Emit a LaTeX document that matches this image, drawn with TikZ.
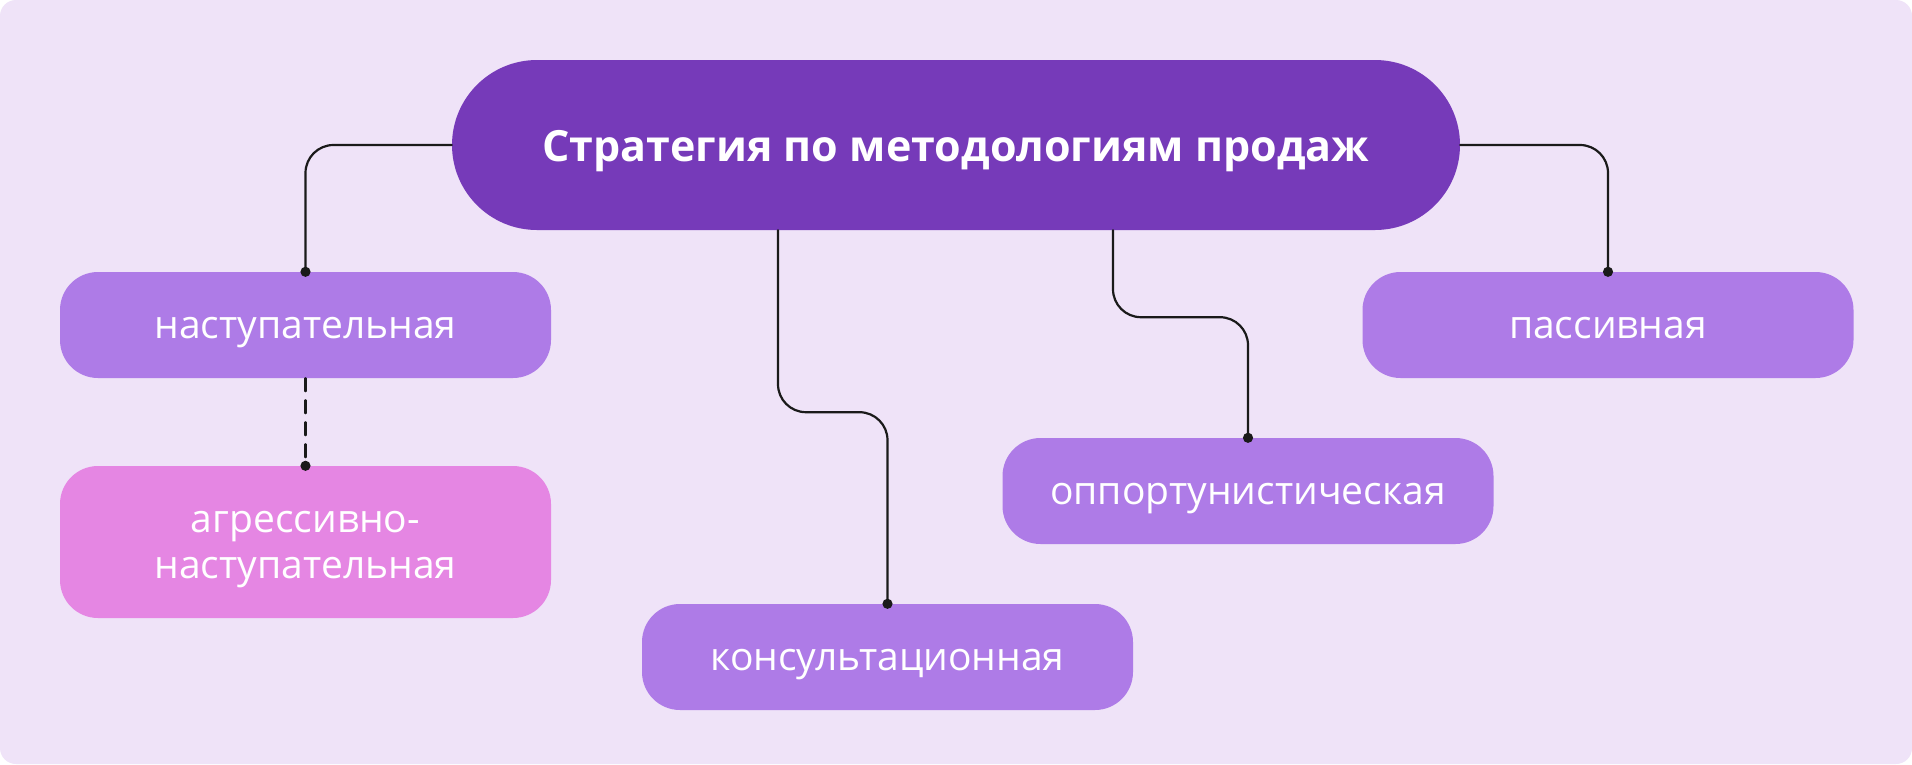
\documentclass[tikz,border=0pt]{standalone}
\usepackage{fontspec}
\setmainfont{Open Sans}
\IfFontExistsTF{Open Sans SemiBold}{\newfontfamily\dam{Open Sans SemiBold}}{\newcommand\dam{\bfseries}}
\usetikzlibrary{arrows.meta}
\definecolor{nenTim}{HTML}{EFE3F8}
\definecolor{timDam}{HTML}{763AB9}
\definecolor{timNhat}{HTML}{AE7BE7}
\definecolor{hongTim}{HTML}{E586E3}
\definecolor{duongNoi}{HTML}{1A1A1A}
\begin{document}
\begin{tikzpicture}[x=1pt, y=-1pt, line join=round, line cap=round,
    goc/.style={rectangle, rounded corners=85pt, fill=timDam, text=white, minimum width=1008pt, minimum height=170pt, inner sep=0pt, text height=35pt, text depth=2pt, font=\fontsize{43}{50}\selectfont\dam},
    nhanh/.style={rectangle, rounded corners=38pt, fill=timNhat, text=white, minimum width=491pt, minimum height=106pt, inner sep=0pt, align=center, text height=30pt, text depth=4pt, font=\fontsize{39}{46}\selectfont},
    noi/.style={draw=duongNoi, line width=2.2pt, rounded corners=28pt, -{Circle[length=10pt]}, shorten >=-5pt}]
    \fill[white] (0,0) rectangle (1912,764);
    \fill[nenTim, rounded corners=16pt] (0,0) rectangle (1912,764);
    \useasboundingbox (0,0) rectangle (1912,764);
    % cac o
    \node[goc] (chinh) at (956,145) {Стратегия по методологиям продаж};
    \node[nhanh] (tancong) at (305.5,325) {наступательная};
    \node[nhanh, fill=hongTim, minimum height=152pt, text height=76pt] (hunghang) at (305.5,542) {агрессивно-\\наступательная};
    \node[nhanh] (tuvan) at (887.5,657) {консультационная};
    \node[nhanh] (cohoi) at (1248,491) {оппортунистическая};
    \node[nhanh] (thudong) at (1608,325) {пассивная};
    % duong noi
    \draw[noi] (chinh.west) -| (tancong.north);
    \draw[noi] (chinh.east) -| (thudong.north);
    \draw[noi] ([xshift=-178pt]chinh.south) -- ++(0,182) -| (tuvan.north);
    \draw[noi] ([xshift=157pt]chinh.south) -- ++(0,87) -| (cohoi.north);
    \draw[noi, rounded corners=0pt, dash pattern=on 13pt off 9pt] (tancong.south) -- (hunghang.north);
\end{tikzpicture}
\end{document}
